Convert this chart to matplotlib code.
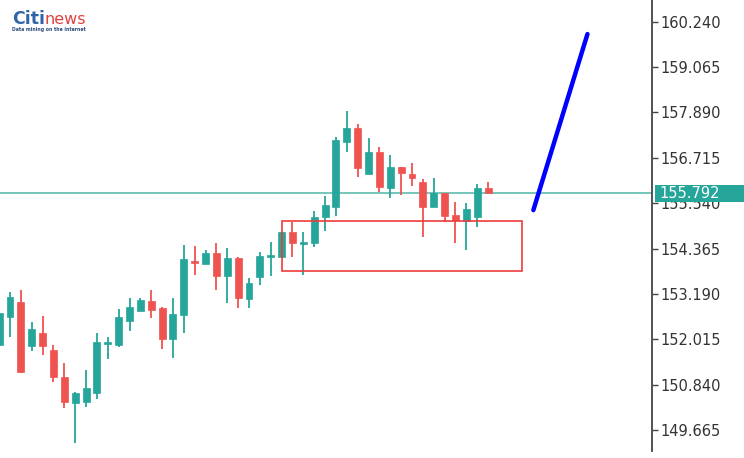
import matplotlib
matplotlib.use("Agg")
import matplotlib.pyplot as plt
import matplotlib.transforms as mtransforms
from matplotlib.patches import Rectangle

# ---- data ----
opens  = [151.87, 152.59, 152.98, 151.84, 152.18, 151.74, 151.04, 150.36, 150.39, 150.62,
          151.90, 151.87, 152.49, 152.75, 153.01, 152.83, 152.02, 152.64, 154.05, 153.96,
          154.25, 153.65, 154.12, 153.06, 153.63, 154.15, 154.15, 154.79, 154.51, 154.51,
          155.18, 155.44, 157.12, 157.49, 156.30, 156.87, 155.93, 156.48, 156.30, 156.09,
          155.44, 155.80, 155.23, 155.08, 155.18, 155.93]
highs  = [152.77, 153.24, 153.29, 152.46, 152.62, 151.87, 151.40, 150.64, 151.22, 152.18,
          152.07, 152.80, 153.08, 153.08, 153.29, 152.85, 153.08, 154.46, 154.43, 154.33,
          154.51, 154.38, 154.15, 153.60, 154.28, 154.53, 154.80, 155.05, 154.79, 155.34,
          155.73, 157.25, 157.93, 157.59, 157.23, 157.00, 156.79, 156.48, 156.58, 156.17,
          156.19, 155.80, 155.57, 155.54, 156.04, 156.09]
lows   = [151.79, 152.07, 151.14, 151.71, 151.61, 150.91, 150.24, 149.33, 150.26, 150.47,
          151.50, 151.82, 152.23, 152.75, 152.57, 151.76, 151.53, 152.18, 153.68, 153.96,
          153.29, 152.95, 152.83, 152.83, 153.42, 153.65, 154.12, 154.15, 153.68, 154.40,
          154.82, 155.21, 156.87, 156.22, 156.30, 155.83, 155.67, 155.75, 155.99, 154.66,
          155.44, 155.05, 154.51, 154.33, 154.92, 155.80]
closes = [152.70, 153.11, 151.17, 152.28, 151.84, 151.04, 150.39, 150.62, 150.75, 151.94,
          151.95, 152.59, 152.85, 153.03, 152.77, 152.02, 152.67, 154.09, 153.99, 154.25,
          153.65, 154.12, 153.08, 153.47, 154.17, 154.17, 154.79, 154.51, 154.53, 155.18,
          155.49, 157.18, 157.49, 156.45, 156.87, 155.96, 156.48, 156.32, 156.19, 155.44,
          155.80, 155.21, 155.10, 155.39, 155.93, 155.80]
current_price = 155.792
y_ticks = [149.665, 150.840, 152.015, 153.190, 154.365, 155.540, 156.715, 157.890, 159.065, 160.240]
y_tick_labels = ["149.665", "150.840", "152.015", "153.190", "154.365",
                 "155.540", "156.715", "157.890", "159.065", "160.240"]
zone_x = [26.0, 48.15]          # red rectangle (candle index)
zone_y = [153.78, 155.08]       # red rectangle (price)
proj_x = [49.17, 54.15]         # blue projection line
proj_y = [155.36, 159.92]

GREEN = "#26a69a"
RED = "#ef5350"

W, H = 744, 458
fig = plt.figure(figsize=(W / 100, H / 100), dpi=100)
fig.patch.set_facecolor("white")
ax = fig.add_axes([0, 7 / H, 652 / W, 451 / H])
ax.set_facecolor("white")

n = len(opens)
xs = list(range(n))
for i in xs:
    o, h, l, c = opens[i], highs[i], lows[i], closes[i]
    col = GREEN if c >= o else RED
    ax.vlines(i, l, h, color=col, linewidth=1.3, zorder=3)
    bot = min(o, c)
    ht = max(abs(c - o), 0.05)
    if abs(c - o) < 0.05:
        bot = (o + c) / 2 - 0.025
    ax.bar(i, ht, bottom=bot, width=0.64, color=col, edgecolor=col, linewidth=0.5, zorder=4)

# current price line
ax.axhline(current_price, color="#5dbcae", linewidth=1.2, zorder=2)

# red zone rectangle
ax.add_patch(Rectangle((zone_x[0], zone_y[0]), zone_x[1] - zone_x[0], zone_y[1] - zone_y[0],
                       fill=False, edgecolor="#ee3b3b", linewidth=1.2, zorder=5))

# blue projection line
ax.plot(proj_x, proj_y, color="#0000ff", linewidth=3.2, solid_capstyle="round", zorder=6)

ax.set_xlim(0.08, 60.09)
ax.set_ylim(149.121, 160.802)

for s in ["top", "left", "bottom"]:
    ax.spines[s].set_visible(False)
ax.spines["right"].set_color("#444444")
ax.spines["right"].set_linewidth(1.3)
ax.set_xticks([])
ax.yaxis.tick_right()
ax.set_yticks(y_ticks)
ax.set_yticklabels(y_tick_labels)
ax.tick_params(axis="y", direction="out", length=4, width=1, color="#444444",
               pad=2, labelsize=10.5, labelcolor="#333333")

# current price label (covers the 155.540 tick label, as in the reference)
trans = mtransforms.blended_transform_factory(ax.transAxes, ax.transData)
ax.add_patch(Rectangle((1.005, current_price - 0.22), 0.2, 0.44, transform=trans,
                       facecolor=GREEN, edgecolor="none", clip_on=False, zorder=20))
ax.text(1.012, current_price, f"{current_price:.3f}", transform=trans, color="white",
        fontsize=10.5, va="center", ha="left", clip_on=False, zorder=21)

# logo
fig.text(12 / W, 1 - 24.5 / H, "Citi", color="#2f65a8", fontsize=12.5, fontweight="bold",
         ha="left", va="baseline")
fig.text(45 / W, 1 - 24.5 / H, "news", color="#e0413f", fontsize=11.5,
         ha="left", va="baseline")
fig.text(12 / W, 1 - 30 / H, "Data mining on the internet", color="#2b4d80", fontsize=3.3,
         fontweight="bold", ha="left", va="center")

fig.savefig("out.png", dpi=100)
